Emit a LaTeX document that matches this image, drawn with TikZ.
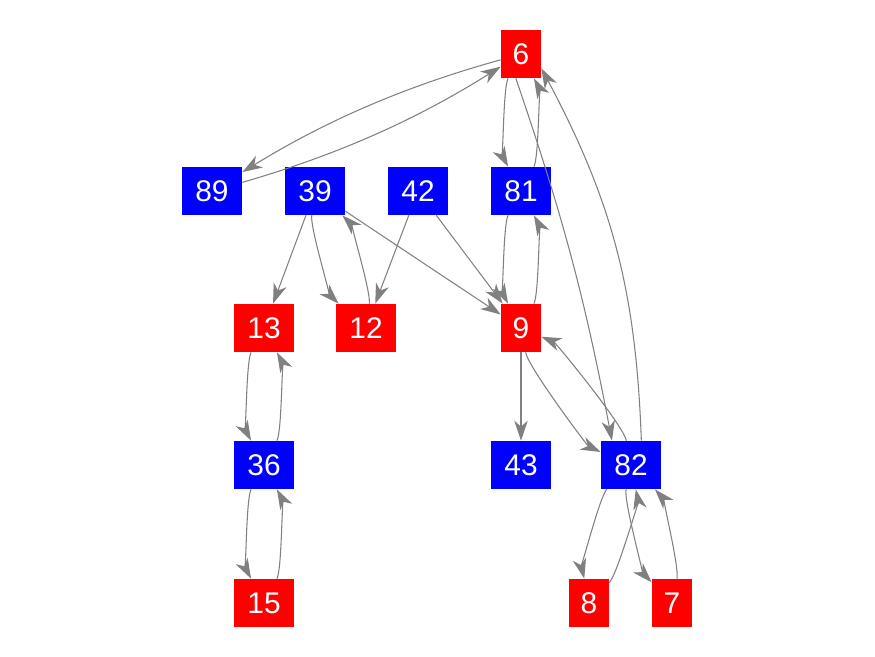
\documentclass[tikz,border=0pt]{standalone}
\usepackage{fontspec}
\setmainfont{Liberation Sans}
\usetikzlibrary{arrows.meta}

\begin{document}
\begin{tikzpicture}[x=0.02cm, y=-0.02cm, >={Stealth[length=4mm, width=2.7mm, inset=1.2mm]},
  vtx/.style={rectangle, inner sep=0pt, minimum width=1.2cm, minimum height=0.96cm,
    text=white, font=\fontsize{17}{20}\selectfont},
  redv/.style={vtx, fill=red},
  bluev/.style={vtx, fill=blue},
  slim/.style={minimum width=0.8cm},
  edge/.style={->, gray, line width=0.6pt}]

\useasboundingbox (0,0) rectangle (875,656);

% -------------------------------------------------------
% 1. Vertices
% -------------------------------------------------------
\foreach \n/\x/\y in {89/212/191, 39/315/191, 42/418/191, 81/521/191,
                      36/264/465, 43/521/465, 82/631/465}
  \node[bluev] (v\n) at (\x,\y) {\n};
\foreach \n/\x/\y in {13/264/328, 12/366/328, 15/264/603}
  \node[redv] (v\n) at (\x,\y) {\n};
\foreach \n/\x/\y in {6/521/54, 9/521/328, 8/589/603, 7/672/603}
  \node[redv, slim] (v\n) at (\x,\y) {\n};

% -------------------------------------------------------
% 2. Edges both ways
% -------------------------------------------------------
\foreach \a/\b in {6/81, 81/6, 81/9, 9/81, 39/12, 12/39, 13/36, 36/13,
                   36/15, 15/36, 9/82, 82/9, 82/8, 8/82, 82/7, 7/82}
  \draw[edge] (v\a) to[bend right=28, looseness=0.3] (v\b);
\foreach \a/\b in {6/89, 89/6}
  \draw[edge] (v\a) to[bend right=8, looseness=0.9] (v\b);

% -------------------------------------------------------
% 3. One-way edges
% -------------------------------------------------------
\foreach \a/\b in {39/13, 39/9, 42/12, 42/9, 9/43}
  \draw[edge] (v\a) -- (v\b);
\draw[edge] (v6.-102) to[bend left=4] (v82.128);
\draw[edge] (v82.67) to[bend right=13] (v6.-35);

\end{tikzpicture}
\end{document}
